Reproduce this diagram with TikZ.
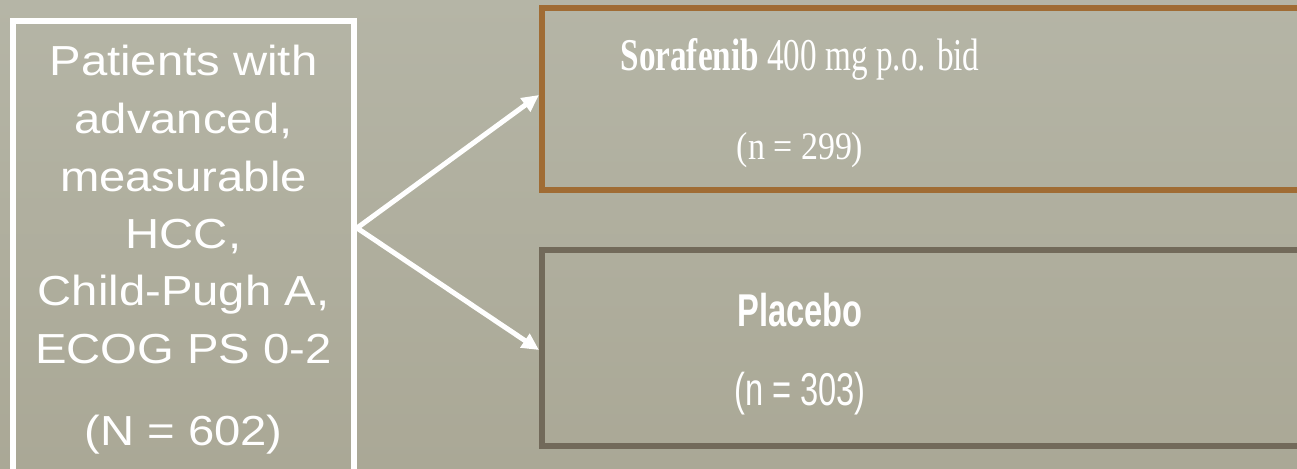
\documentclass[tikz,border=0pt]{standalone}
\usepackage{fontspec}
\usetikzlibrary{arrows.meta}
\newfontfamily\leftfont[FakeStretch=1.125]{Liberation Sans}
\newfontfamily\sorafont[FakeStretch=0.73]{Liberation Serif}
\newfontfamily\nsorafont[FakeStretch=0.87]{Liberation Serif}
\newfontfamily\placfont[FakeStretch=0.71]{Liberation Sans}
\definecolor{bgtop}{RGB}{181,181,166}
\definecolor{bgbot}{RGB}{170,168,150}
\definecolor{sorabrown}{RGB}{160,108,52}
\definecolor{placgray}{RGB}{114,106,90}
\tikzset{
  box/.style={draw, line width=6pt, inner sep=0pt, outer sep=3pt, anchor=north west},
  arr/.style={draw=white, line width=5pt, -{Triangle[length=17pt,width=16pt]}},
  lefttxt/.style={text=white, anchor=base, inner sep=0pt, font=\leftfont\fontsize{42}{50}\selectfont},
  soratxt/.style={text=white, anchor=base, inner sep=0pt, font=\sorafont\fontsize{45.5}{52}\selectfont},
  nsoratxt/.style={text=white, anchor=base, inner sep=0pt, font=\nsorafont\fontsize{39}{46}\selectfont},
  plactxt/.style={text=white, anchor=base, inner sep=0pt, font=\placfont\fontsize{46}{54}\selectfont}
}
\begin{document}
\begin{tikzpicture}[x=1pt,y=-1pt]
\useasboundingbox (0,0) rectangle (1297,468);
\clip (0,0) rectangle (1297,468);
\fill[top color=bgtop, bottom color=bgbot] (0,0) rectangle (1297,468);

% boxes
\node[box, draw=white, minimum width=341pt, minimum height=459pt] (pat) at (10,18) {};
\node[box, draw=sorabrown, minimum width=900pt, minimum height=182pt] (sor) at (539,5) {};
\node[box, draw=placgray, minimum width=900pt, minimum height=196pt] (plc) at (539,247) {};

% left text
\node[lefttxt] (l1) at (183.5,76) {Patients with};
\node[lefttxt] (l2) at (183.5,133) {advanced,};
\node[lefttxt] (l3) at (183.5,191) {measurable};
\node[lefttxt] (l4) at (183.5,248) {HCC,};
\node[lefttxt] (l5) at (183.5,305) {Child-Pugh A,};
\node[lefttxt] (l6) at (183.5,363) {ECOG PS 0-2};
\node[lefttxt] (l7) at (183.5,445) {(N = 602)};

% right texts
\node[soratxt] (s1) at (800,71) {\textbf{Sorafenib} 400 mg p.o. bid};
\node[nsoratxt] (s2) at (800,159) {(n = 299)};
\node[plactxt] (p1) at (800,326) {\textbf{Placebo}};
\node[plactxt] (p2) at (800,405) {(n = 303)};

% connectors
\coordinate (split) at (pat.east |- 0,228);
\draw[arr] (split) -- ([yshift=4pt]sor.west);
\draw[arr] (split) -- ([yshift=-2pt]plc.west);
\end{tikzpicture}
\end{document}
